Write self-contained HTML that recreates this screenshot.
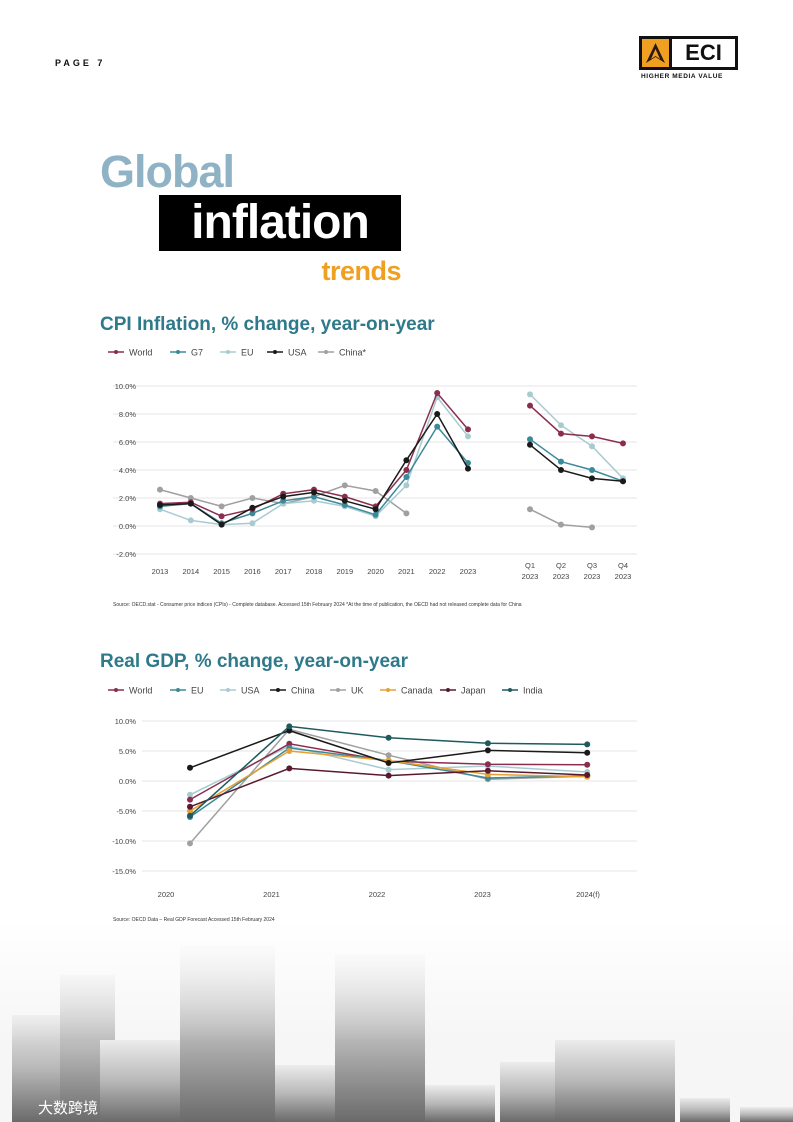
<!DOCTYPE html>
<html><head><meta charset="utf-8">
<style>
*{margin:0;padding:0;box-sizing:border-box}
body{width:793px;height:1122px;position:relative;overflow:hidden;background:#fff;font-family:"Liberation Sans","Noto Sans CJK SC",sans-serif}
.abs{position:absolute}
</style></head><body>
<div class="abs" style="left:55px;top:58px;font-size:9px;font-weight:bold;letter-spacing:3px;color:#111">PAGE 7</div>
<div class="abs" style="left:639px;top:36px;width:99px;height:34px;border:3px solid #111;display:flex">
 <div style="width:30px;background:#f0a020;border-right:3px solid #111;position:relative">
  <svg width="27" height="28" viewBox="0 0 27 28"><polygon points="13.5,4 23,24 13.5,18 4,24" fill="#2a1a10"/><polygon points="13.5,10 18,20 13.5,17 9,20" fill="#f0a020"/></svg>
 </div>
 <div style="flex:1;font-weight:bold;font-size:22px;line-height:28px;text-align:center;color:#111">ECI</div>
</div>
<div class="abs" style="left:641px;top:73px;font-size:6.5px;font-weight:bold;letter-spacing:0.6px;color:#111">HIGHER MEDIA VALUE</div>

<div class="abs" style="left:100px;top:146px;font-size:45px;font-weight:bold;color:#8fb3c5;letter-spacing:-1px">Global</div>
<div class="abs" style="left:159px;top:195px;width:242px;height:56px;background:#000;color:#fff;font-size:48px;font-weight:bold;text-align:center;line-height:56px;letter-spacing:-1px">inflation</div>
<div class="abs" style="left:300px;top:256px;width:101px;text-align:right;font-size:27px;font-weight:bold;color:#f0a020;letter-spacing:-0.5px">trends</div>

<div class="abs" style="left:100px;top:314px;font-size:19px;font-weight:bold;color:#2e7a8a">CPI Inflation, % change, year-on-year</div>
<div class="abs" style="left:100px;top:651px;font-size:19px;font-weight:bold;color:#2e7a8a">Real GDP, % change, year-on-year</div>

<svg class="abs" style="left:0;top:0" width="793" height="1122" id="svg">
 <defs>
  <linearGradient id="fog" x1="0" y1="0" x2="0" y2="1"><stop offset="0" stop-color="#fff" stop-opacity="1"/><stop offset="1" stop-color="#fff" stop-opacity="0"/></linearGradient>
  <linearGradient id="bld" x1="0" y1="0" x2="0" y2="1"><stop offset="0" stop-color="#ececec"/><stop offset="0.5" stop-color="#b8b8b8"/><stop offset="1" stop-color="#6a6a6a"/></linearGradient>
 </defs>
 <g id="city">
  <rect x="0" y="920" width="793" height="202" fill="#f6f6f6"/>
  <rect x="12" y="1015" width="90" height="107" fill="url(#bld)"/>
  <rect x="60" y="975" width="55" height="147" fill="url(#bld)"/>
  <rect x="100" y="1040" width="80" height="82" fill="url(#bld)"/>
  <rect x="180" y="945" width="95" height="177" fill="url(#bld)"/>
  <rect x="275" y="1065" width="60" height="57" fill="url(#bld)"/>
  <rect x="335" y="955" width="90" height="167" fill="url(#bld)"/>
  <rect x="425" y="1085" width="70" height="37" fill="url(#bld)"/>
  <rect x="500" y="1062" width="60" height="60" fill="url(#bld)"/>
  <rect x="555" y="1040" width="120" height="82" fill="url(#bld)"/>
  <rect x="680" y="1098" width="50" height="24" fill="url(#bld)"/>
  <rect x="740" y="1107" width="53" height="15" fill="url(#bld)"/>
  <rect x="0" y="920" width="793" height="120" fill="url(#fog)"/>
  <text x="38" y="1113" font-size="15" fill="#fff" font-family="Liberation Sans, Noto Sans CJK SC, sans-serif">大数跨境</text>
 </g>
 <text x="113" y="606" font-size="5" fill="#333">Source: OECD.stat - Consumer price indices (CPIs) - Complete database. Accessed 15th February 2024 *At the time of publication, the OECD had not released complete data for China</text>
 <text x="113" y="921" font-size="5" fill="#333">Source: OECD Data – Real GDP Forecast Accessed 15th February 2024</text>
 <g id="c1"></g>
 <g id="c2"></g>
</svg>
<script>
// CPI chart data
const cpiYears=["2013","2014","2015","2016","2017","2018","2019","2020","2021","2022","2023"];
const cpiQuarters=["Q1","Q2","Q3","Q4"];
const cpiTicks=[10,8,6,4,2,0,-2];
const cpiTickLabels=["10.0%","8.0%","6.0%","4.0%","2.0%","0.0%","-2.0%"];
const cpiNames=["World","G7","EU","USA","China*"];
const cpiWorld=[1.6,1.7,0.7,1.2,2.3,2.6,2.1,1.4,4.0,9.5,6.9];
const cpiG7=[1.4,1.6,0.2,0.9,1.8,2.1,1.5,0.8,3.5,7.1,4.5];
const cpiEU=[1.2,0.4,0.1,0.2,1.6,1.8,1.4,0.7,2.9,9.2,6.4];
const cpiUSA=[1.5,1.6,0.1,1.3,2.1,2.4,1.8,1.2,4.7,8.0,4.1];
const cpiChina=[2.6,2.0,1.4,2.0,1.6,2.1,2.9,2.5,0.9,null,null];
const cpiWorldQ=[8.6,6.6,6.4,5.9];
const cpiG7Q=[6.2,4.6,4.0,3.2];
const cpiEUQ=[9.4,7.2,5.7,3.4];
const cpiUSAQ=[5.8,4.0,3.4,3.2];
const cpiChinaQ=[1.2,0.1,-0.1,null];
// GDP chart data
const gdpYears=["2020","2021","2022","2023","2024(f)"];
const gdpTicks=[10,5,0,-5,-10,-15];
const gdpTickLabels=["10.0%","5.0%","0.0%","-5.0%","-10.0%","-15.0%"];
const gdpNames=["World","EU","USA","China","UK","Canada","Japan","India"];
const gdpWorld=[-3.1,6.2,3.3,2.8,2.7];
const gdpEU=[-6.0,5.5,3.4,0.5,0.9];
const gdpUSA=[-2.3,5.8,1.9,2.5,1.5];
const gdpChina=[2.2,8.4,3.0,5.1,4.7];
const gdpUK=[-10.4,8.6,4.3,0.3,0.8];
const gdpCanada=[-5.0,5.0,3.4,1.1,0.7];
const gdpJapan=[-4.3,2.1,0.9,1.7,1.0];
const gdpIndia=[-5.8,9.1,7.2,6.3,6.1];

const NS="http://www.w3.org/2000/svg";
function mk(parent,tag,attrs){const e=document.createElementNS(NS,tag);for(const k in attrs)e.setAttribute(k,attrs[k]);parent.appendChild(e);return e;}
function legend(g,names,colors,y,xs){
 names.forEach((n,i)=>{
  const x=xs[i];
  const l=mk(g,"line",{x1:x,y1:y,x2:x+16,y2:y,stroke:colors[i],"stroke-width":1.5});
  
  
  const c=mk(g,"circle",{cx:x+8,cy:y,r:2,fill:colors[i]});
  
  
  const t=mk(g,"text",{x:x+21,y:y+3.5,"font-size":9,fill:"#444"});t.textContent=n;
  
  
 });
}
function series(g,xs,vals,yf,color,name){
 let pts=[];
 vals.forEach((v,i)=>{if(v!==null)pts.push([xs[i],yf(v)]);});
 const p=mk(g,"polyline",{points:pts.map(p=>p.join(",")).join(" "),fill:"none",stroke:color,"stroke-width":1.5});
 
 
 pts.forEach(q=>{const c=mk(g,"circle",{cx:q[0],cy:q[1],r:3,fill:color});
  
  });
}
// Chart 1
(function(){
 const g=document.getElementById("c1");
 const y=v=>526-v*14;
 const xY=i=>160+i*30.8;
 const xQ=i=>530+i*31;
 cpiTicks.forEach((t,i)=>{
  const l=mk(g,"line",{x1:113,x2:637,y1:y(t),y2:y(t),stroke:"#e6e6e6","stroke-width":1});
  
  
  const tx=mk(g,"text",{x:136,y:y(t)+3,"font-size":7.5,fill:"#444","text-anchor":"end"});tx.textContent=cpiTickLabels[i];
  
  
 });
 const xsY=cpiYears.map((_,i)=>xY(i)), xsQ=cpiQuarters.map((_,i)=>xQ(i));
 cpiYears.forEach((yr,i)=>{const t=mk(g,"text",{x:xY(i),y:574,"font-size":7.5,fill:"#444","text-anchor":"middle"});t.textContent=yr;
  
  });
 cpiQuarters.forEach((q,i)=>{const t=mk(g,"text",{x:xQ(i),y:568,"font-size":7.5,fill:"#444","text-anchor":"middle"});t.textContent=q;
  
  
  const t2=mk(g,"text",{x:xQ(i),y:579,"font-size":7.5,fill:"#444","text-anchor":"middle"});t2.textContent="2023";
  
  });
 const cols=["#8b2e4e","#3a8a9a","#a8cbd2","#1a1a1a","#a0a0a0"];
 const ann=[cpiWorld,cpiG7,cpiEU,cpiUSA,cpiChina], qs=[cpiWorldQ,cpiG7Q,cpiEUQ,cpiUSAQ,cpiChinaQ];
 const order=[4,2,1,0,3];
 order.forEach(k=>{series(g,xsY,ann[k],y,cols[k],cpiNames[k].replace('*','').toLowerCase());series(g,xsQ,qs[k],y,cols[k],cpiNames[k].replace('*','').toLowerCase()+'-quarterly');});
 legend(g,cpiNames,cols,352,[108,170,220,267,318]);
})();
// Chart 2
(function(){
 const g=document.getElementById("c2");
 const y=v=>781-v*6;
 const xp=i=>190+i*99.3;
 const xl=i=>166+i*105.5;
 gdpTicks.forEach((t,i)=>{
  const l=mk(g,"line",{x1:142,x2:637,y1:y(t),y2:y(t),stroke:"#e6e6e6","stroke-width":1});
  
  
  const tx=mk(g,"text",{x:136,y:y(t)+3,"font-size":7.5,fill:"#444","text-anchor":"end"});tx.textContent=gdpTickLabels[i];
  
  
 });
 gdpYears.forEach((yr,i)=>{const t=mk(g,"text",{x:xl(i),y:897,"font-size":7.5,fill:"#444","text-anchor":"middle"});t.textContent=yr;
  
  });
 const xs=gdpYears.map((_,i)=>xp(i));
 const cols=["#8b2e4e","#3a8a9a","#a8cbd2","#1a1a1a","#a0a0a0","#e8a030","#5a1a2e","#1f5a5e"];
 const all=[gdpWorld,gdpEU,gdpUSA,gdpChina,gdpUK,gdpCanada,gdpJapan,gdpIndia];
 [4,2,0,1,5,6,3,7].forEach(k=>series(g,xs,all[k],y,cols[k],gdpNames[k].toLowerCase()));
 legend(g,gdpNames,cols,690,[108,170,220,270,330,380,440,502]);
})();
</script>
</body></html>
